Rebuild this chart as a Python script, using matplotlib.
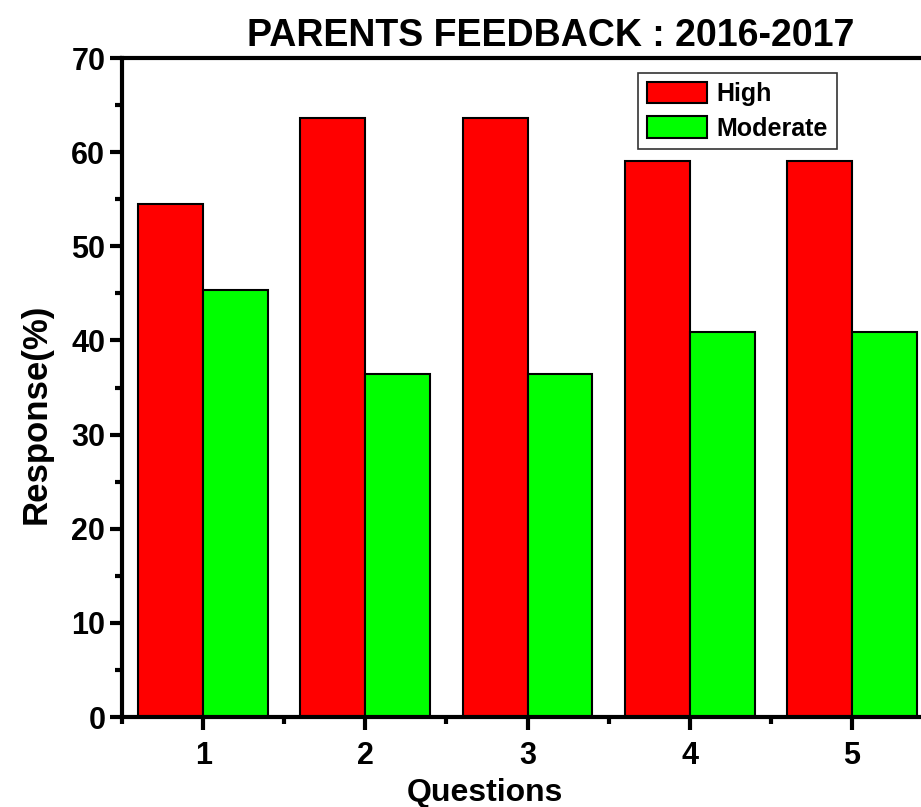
import numpy as np
import matplotlib.pyplot as plt
from matplotlib.ticker import MultipleLocator

questions = [1, 2, 3, 4, 5]
high = [54.5, 63.6, 63.6, 59.1, 59.1]
moderate = [45.4, 36.4, 36.4, 40.9, 40.9]

plt.rcParams['font.family'] = 'Liberation Sans'
plt.rcParams['font.weight'] = 'bold'

fig = plt.figure(figsize=(9.21, 8.07), dpi=100)
# axes run past the right edge of the picture, like the original
ax = fig.add_axes([0.1325, 0.1115, 0.8806, 0.8166])

x = np.array(questions)
w = 0.4
ax.bar(x - w/2, high, w, color='#ff0000', edgecolor='black', lw=1.5, label='High')
ax.bar(x + w/2, moderate, w, color='#00ff00', edgecolor='black', lw=1.5, label='Moderate')

ax.set_xlim(0.5, 5.5)
ax.set_ylim(0, 70)
ax.xaxis.set_major_locator(MultipleLocator(1))
ax.xaxis.set_minor_locator(MultipleLocator(0.5))
ax.yaxis.set_major_locator(MultipleLocator(10))
ax.yaxis.set_minor_locator(MultipleLocator(5))
for s in ax.spines.values():
    s.set_linewidth(3)
ax.spines['right'].set_visible(False)
ax.tick_params(which='major', direction='out', length=9, width=3, labelsize=22)
ax.tick_params(which='minor', direction='out', length=5, width=3)
ax.tick_params(axis='x', pad=8)
ax.tick_params(axis='y', pad=3)

ax.set_xlabel('Questions', fontsize=23, fontweight='bold')
ax.xaxis.set_label_coords(0.448, -0.093)
ax.set_ylabel('Response(%)', fontsize=25, fontweight='bold')
ax.yaxis.set_label_coords(-0.086, 0.46)
ax.set_title('PARENTS FEEDBACK : 2016-2017', fontsize=27, fontweight='bold', x=0.529, pad=9)

leg = ax.legend(loc='upper left', bbox_to_anchor=(0.636, 0.977), fontsize=18, frameon=True,
                fancybox=False, edgecolor='black', handlelength=2.4, handleheight=0.95,
                handletextpad=0.4, borderpad=0.35, labelspacing=0.4, borderaxespad=0)
leg.get_frame().set_linewidth(1.2)

fig.savefig('out.png', dpi=100)
